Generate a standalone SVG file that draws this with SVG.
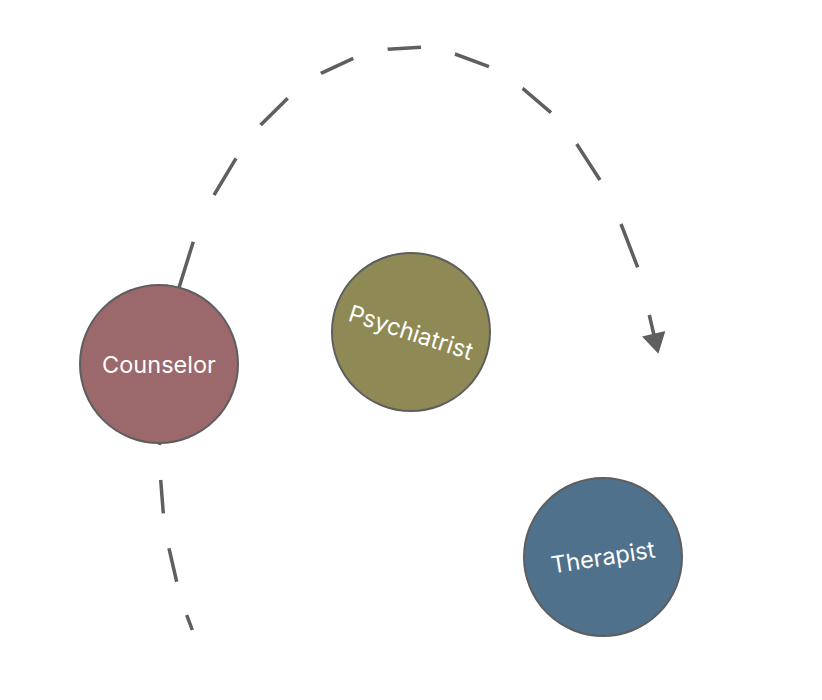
<svg xmlns="http://www.w3.org/2000/svg" width="822" height="700" viewBox="0 0 822 700">
<style>
.node{stroke:#5e5e5e;stroke-width:2}
.lbl{font-family:Inter,"Liberation Sans",sans-serif;font-size:23.5px;fill:#ffffff;text-anchor:middle;dominant-baseline:central}
.edge{fill:none;stroke:#5f5f5f;stroke-width:3.5;stroke-dasharray:16.01 34.77 34.28 35.46 33.40 35.02 206.66 51.08 42.79 41.46 37.97 41.64 35.61 35.56 33.36 34.65 36.29 40.03 37.37 40.50 42.88 48.75 46.41 49.09 100 10}
</style>
<defs>
<marker id="arr" markerUnits="userSpaceOnUse" markerWidth="24" markerHeight="24" viewBox="0 0 18 21" refX="2" refY="10.5" orient="auto">
<path d="M0,0 L18,10.5 L0,21 Z" fill="#5f5f5f"/>
</marker>
</defs>
<rect width="822" height="700" fill="#ffffff"/>
<g id="connectors">
<path class="edge" marker-end="url(#arr)" d="M192.3,630 L186.7,615 L176.7,581.7 L169,548.3 L163.3,513.3 L160.7,480 L159.5,445 L179.3,286.7 L193.3,241.7 L214,195 L236,158.3 L260.7,125 L287.7,98.3 L321,73.3 L353.3,58.3 L387.7,49.3 L421,47.3 L455,54 L489,66.7 L522.7,88.3 L551,112.7 L576.7,144 L600,180 L621,224 L637.7,267.3 L649.3,315 L654.2,336"/>
</g>
<g id="counselor">
<circle class="node" cx="159" cy="364" r="79" fill="#9b686b"/>
<text class="lbl" x="159" y="364">Counselor</text>
</g>
<g id="psychiatrist">
<circle class="node" cx="411" cy="332" r="79" fill="#8f8a55"/>
<text class="lbl" x="411" y="332" transform="rotate(18 411 332)">Psychiatrist</text>
</g>
<g id="therapist">
<circle class="node" cx="603" cy="557" r="79" fill="#4f718b"/>
<text class="lbl" x="603" y="557" transform="rotate(-9 603 557)">Therapist</text>
</g>
</svg>
